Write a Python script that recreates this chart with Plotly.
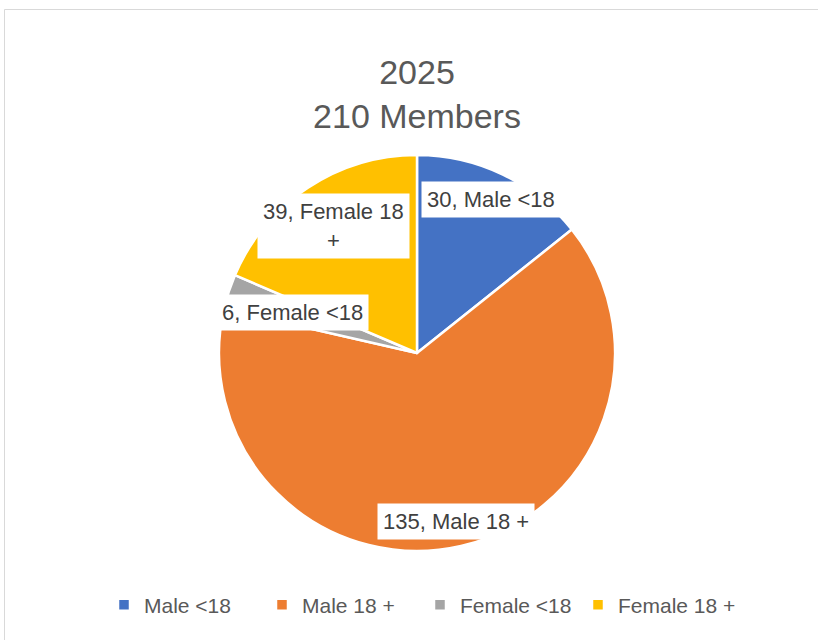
import math
import plotly.graph_objects as go

# ---- data ----
categories = ["Male <18", "Male 18 +", "Female <18", "Female 18 +"]
values = [30, 135, 6, 39]
label_texts = ["30, Male <18", "135, Male 18 +", "6, Female <18", "39, Female 18<br>+"]
title_lines = ["2025", "210 Members"]

# ---- style ----
colors = ["#4472C4", "#ED7D31", "#A5A5A5", "#FFC000"]
label_radius_frac = [0.86, 0.875, 0.66, 0.77]  # radial placement of data labels
W, H = 818, 640
cx, cy, R = 417, 353, 198  # pie center/radius in pixels
font_family = "Liberation Sans, Arial, sans-serif"
text_gray = "#595959"

dom_x = [(cx - R) / W, (cx + R) / W]
dom_y = [1 - (cy + R) / H, 1 - (cy - R) / H]

fig = go.Figure(go.Pie(
    labels=categories,
    values=values,
    sort=False,
    direction="clockwise",
    rotation=0,
    marker=dict(colors=colors, line=dict(color="white", width=2.5)),
    textinfo="none",
    hoverinfo="label+value",
    domain=dict(x=dom_x, y=dom_y),
))

# data labels with white boxes at slice mid-angles
total = sum(values)
cum = 0
annotations = []
for v, txt, frac in zip(values, label_texts, label_radius_frac):
    mid = (cum + v / 2) / total * 2 * math.pi
    cum += v
    px = cx + R * frac * math.sin(mid)
    py = cy - R * frac * math.cos(mid)
    annotations.append(dict(
        x=px / W, y=1 - py / H, xref="paper", yref="paper",
        text=txt, showarrow=False, align="center",
        font=dict(family=font_family, size=22, color="#404040"),
        bgcolor="white", borderpad=5,
        xanchor="center", yanchor="middle",
    ))

fig.update_layout(
    width=W, height=H,
    margin=dict(l=0, r=0, t=0, b=0),
    paper_bgcolor="white",
    plot_bgcolor="white",
    title=dict(
        text="<br>".join(title_lines),
        x=417 / W, xanchor="center",
        y=1 - 84 / H, yanchor="top",
        font=dict(family=font_family, size=34, color=text_gray),
    ),
    legend=dict(
        orientation="h",
        x=420 / W, xanchor="center",
        y=1 - 605 / H, yanchor="middle",
        font=dict(family=font_family, size=21, color=text_gray),
        itemwidth=30,
        entrywidth=113, entrywidthmode="pixels",
        traceorder="normal",
    ),
    annotations=annotations,
    shapes=[dict(
        type="rect", xref="paper", yref="paper",
        x0=4.5 / W, x1=1.05, y0=-0.05, y1=1 - 9.5 / H,
        line=dict(color="#D9D9D9", width=1),
        fillcolor="rgba(0,0,0,0)", layer="below",
    )],
)

fig.write_html("out.html")
